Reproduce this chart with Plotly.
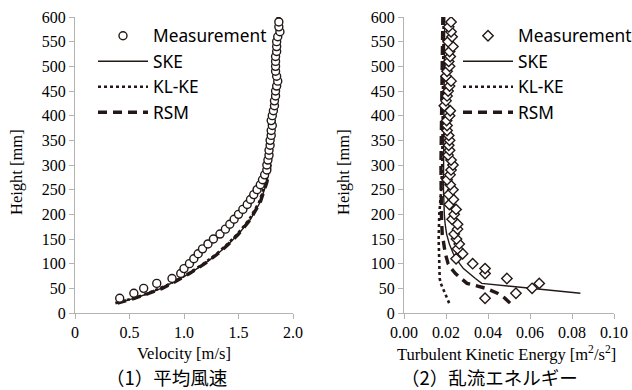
import plotly.graph_objects as go

INK = "#231815"
AXC = "#b3b3b3"

# ---------- (1) mean velocity ----------
vel_meas_h = [30, 40, 50, 60, 70, 80, 90, 100, 110, 120, 130, 140, 150, 160, 170, 180, 190, 200,
              210, 220, 230, 240, 250, 260, 270, 280, 290, 300, 310, 320, 330, 340, 350, 360,
              370, 380, 390, 400, 410, 420, 430, 440, 450, 460, 470, 480, 490, 500, 510, 520,
              530, 540, 550, 560, 570, 580, 590]
vel_meas = [0.41, 0.54, 0.63, 0.75, 0.89, 0.97, 1.00, 1.05, 1.09, 1.13, 1.17, 1.22, 1.27, 1.33,
            1.38, 1.42, 1.46, 1.50, 1.54, 1.58, 1.61, 1.64, 1.67, 1.70, 1.72, 1.74, 1.76, 1.76,
            1.77, 1.78, 1.78, 1.79, 1.79, 1.80, 1.80, 1.81, 1.80, 1.81, 1.82, 1.83, 1.83, 1.84,
            1.84, 1.85, 1.86, 1.85, 1.84, 1.84, 1.84, 1.84, 1.85, 1.85, 1.85, 1.86, 1.88, 1.87, 1.87]

vel_model_h = [20, 30, 40, 50, 60, 70, 80, 100, 120, 140, 160, 190, 225, 265, 300, 350, 400,
               450, 500, 550, 600]
vel_ske = [0.38, 0.55, 0.68, 0.79, 0.88, 0.97, 1.05, 1.19, 1.31, 1.41, 1.50, 1.61, 1.70, 1.76,
           1.79, 1.81, 1.83, 1.84, 1.85, 1.86, 1.86]
vel_klke = [0.37, 0.54, 0.67, 0.78, 0.88, 0.96, 1.04, 1.18, 1.30, 1.40, 1.49, 1.60, 1.69, 1.75,
            1.78, 1.81, 1.82, 1.84, 1.85, 1.85, 1.86]
vel_rsm = [0.39, 0.55, 0.68, 0.80, 0.89, 0.97, 1.05, 1.19, 1.31, 1.41, 1.50, 1.61, 1.70, 1.76,
           1.79, 1.81, 1.83, 1.84, 1.85, 1.86, 1.87]

# ---------- (2) turbulent kinetic energy ----------
tke_meas_h = [30, 40, 50, 60, 70, 80, 90, 100, 110, 120, 130, 140, 150, 160, 170, 180, 190, 200,
              210, 220, 230, 240, 250, 260, 270, 280, 290, 300, 310, 320, 330, 340, 350, 360,
              370, 380, 390, 400, 410, 420, 430, 440, 450, 460, 470, 480, 490, 500, 510, 520,
              530, 540, 550, 560, 570, 580, 590]
tke_meas = [0.0386, 0.0533, 0.0610, 0.0644, 0.0490, 0.0386, 0.0386, 0.0327, 0.0248, 0.0279,
            0.0255, 0.0263, 0.0250, 0.0239, 0.0255, 0.0255, 0.0229, 0.0239, 0.0248, 0.0216,
            0.0235, 0.0213, 0.0233, 0.0220, 0.0205, 0.0219, 0.0224, 0.0233, 0.0224, 0.0210,
            0.0217, 0.0213, 0.0217, 0.0213, 0.0205, 0.0205, 0.0203, 0.0217, 0.0220, 0.0192,
            0.0200, 0.0205, 0.0210, 0.0217, 0.0224, 0.0200, 0.0205, 0.0217, 0.0213, 0.0220,
            0.0217, 0.0233, 0.0210, 0.0229, 0.0224, 0.0213, 0.0224]

tke_ske_h = [40, 50, 60, 70, 80, 90, 100, 120, 140, 160, 180, 200, 250, 300, 400, 500, 600]
tke_ske = [0.0840, 0.0610, 0.0370, 0.0340, 0.0310, 0.0283, 0.0265, 0.0235, 0.0216, 0.0203,
           0.0196, 0.0192, 0.0188, 0.0188, 0.0190, 0.0192, 0.0194]
tke_klke_h = [20, 30, 40, 50, 60, 70, 100, 150, 200, 250, 300, 400, 500, 600]
tke_klke = [0.0215, 0.0205, 0.0197, 0.0185, 0.0175, 0.0170, 0.0167, 0.0165, 0.0168, 0.0177,
            0.0182, 0.0185, 0.0187, 0.0189]
tke_rsm_h = [20, 30, 40, 50, 60, 70, 80, 90, 100, 120, 140, 160, 200, 250, 300, 400, 500, 600]
tke_rsm = [0.0505, 0.0480, 0.0445, 0.0390, 0.0300, 0.0270, 0.0245, 0.0225, 0.0210, 0.0197,
           0.0189, 0.0182, 0.0178, 0.0176, 0.0176, 0.0179, 0.0182, 0.0185]

y_ticks = [0, 50, 100, 150, 200, 250, 300, 350, 400, 450, 500, 550, 600]
vel_ticks = [0, 0.5, 1.0, 1.5, 2.0]
vel_tick_text = ["0", "0.5", "1.0", "1.5", "2.0"]
tke_ticks = [0.00, 0.02, 0.04, 0.06, 0.08, 0.10]
tke_tick_text = ["0.00", "0.02", "0.04", "0.06", "0.08", "0.10"]

names = ["Measurement", "SKE", "KL-KE", "RSM"]

W, H = 632, 390
def px(x):
    return x / W
def py(y):
    return 1 - y / H

fig = go.Figure()

def add_panel(xa, ya, leg, meas_x, meas_y, sym, msize, ske, klke, rsm):
    fig.add_trace(go.Scatter(x=ske[0], y=ske[1], mode="lines", name=names[1],
                             line=dict(color=INK, width=1.4), xaxis=xa, yaxis=ya,
                             legend=leg, legendrank=2))
    fig.add_trace(go.Scatter(x=klke[0], y=klke[1], mode="lines", name=names[2],
                             line=dict(color=INK, width=2.6, dash="dot"), xaxis=xa, yaxis=ya,
                             legend=leg, legendrank=3))
    fig.add_trace(go.Scatter(x=rsm[0], y=rsm[1], mode="lines", name=names[3],
                             line=dict(color=INK, width=3.4, dash="9px,6px"), xaxis=xa, yaxis=ya,
                             legend=leg, legendrank=4))
    fig.add_trace(go.Scatter(x=meas_x, y=meas_y, mode="markers", name=names[0],
                             marker=dict(symbol=sym, size=msize, color="white",
                                         line=dict(color=INK, width=1.4)),
                             xaxis=xa, yaxis=ya, legend=leg, legendrank=1))

add_panel("x", "y", "legend", vel_meas, vel_meas_h, "circle", 8,
          (vel_ske, vel_model_h), (vel_klke, vel_model_h), (vel_rsm, vel_model_h))
add_panel("x2", "y2", "legend2", tke_meas, tke_meas_h, "diamond", 8,
          (tke_ske, tke_ske_h), (tke_klke, tke_klke_h), (tke_rsm, tke_rsm_h))

tickfont = dict(family="Liberation Serif", size=16, color="#000000")
ax_common = dict(showgrid=False, zeroline=False, showline=True, linecolor=AXC, linewidth=1,
                 ticks="outside", ticklen=5, tickcolor=AXC, tickfont=tickfont)

ydom = [py(313), py(17)]
legfont = dict(family="Noto Sans", size=17.3, color="#000000")
fig.update_layout(
    width=W, height=H,
    margin=dict(l=0, r=0, t=0, b=0, autoexpand=False),
    paper_bgcolor="white", plot_bgcolor="white",
    showlegend=True,
    xaxis=dict(domain=[px(75), px(293)], range=[0, 2.0], tickvals=vel_ticks,
               ticktext=vel_tick_text, anchor="y", **ax_common),
    yaxis=dict(domain=ydom, range=[0, 600], tickvals=y_ticks, anchor="x", **ax_common),
    xaxis2=dict(domain=[px(404), px(614)], range=[0, 0.10], tickvals=tke_ticks,
                ticktext=tke_tick_text, anchor="y2", **ax_common),
    yaxis2=dict(domain=ydom, range=[0, 600], tickvals=y_ticks, anchor="x2", **ax_common),
    legend=dict(x=px(93), y=py(18), xanchor="left", yanchor="top", font=legfont,
                bgcolor="rgba(0,0,0,0)", itemwidth=50, tracegroupgap=0),
    legend2=dict(x=px(458), y=py(18), xanchor="left", yanchor="top", font=legfont,
                 bgcolor="rgba(0,0,0,0)", itemwidth=50, tracegroupgap=0),
)

serif = dict(family="Liberation Serif", size=16.5, color="#000000")
cjk = dict(family="Noto Sans CJK JP", size=18.5, color="#000000")
annos = [
    dict(text="Height [mm]", x=px(16), y=py(172), textangle=-90, font=serif),
    dict(text="Height [mm]", x=px(343), y=py(172), textangle=-90, font=serif),
    dict(text="Velocity [m/s]", x=px(184), y=py(353), font=serif),
    dict(text="Turbulent Kinetic Energy [m<sup>2</sup>/s<sup>2</sup>]", x=px(507), y=py(353), font=serif),
    dict(text="（1）平均風速", x=px(166), y=py(377), font=cjk),
    dict(text="（2）乱流エネルギー", x=px(489), y=py(377), font=cjk),
]
for a in annos:
    fig.add_annotation(xref="paper", yref="paper", showarrow=False,
                       xanchor="center", yanchor="middle", **a)

fig.write_html("out.html", config={"displayModeBar": False},
               post_script="document.body.style.margin='0';document.body.style.padding='0';"
                           "document.body.style.overflow='hidden';")
